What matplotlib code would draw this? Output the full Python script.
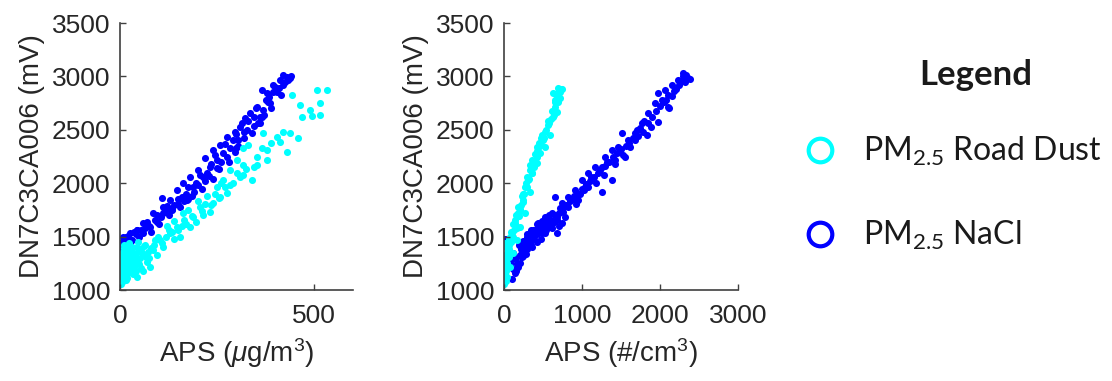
import matplotlib
matplotlib.use('Agg')
import matplotlib.pyplot as plt
from matplotlib.lines import Line2D
from matplotlib.font_manager import FontProperties

# colours (MATLAB 'c' and 'b')
dust_color = (0.0, 1.0, 1.0)
nacl_color = (0.0, 0.0, 1.0)
text_color = '#262626'

# sensor output (mV) vs APS mass concentration (ug/m3)
dust_mass_x = [2, 5, 8, 3, 10, 14, 6, 12, 18, 20, 4, 9, 16, 22, 25, 28, 2, 7, 13, 19,
               26, 32, 35, 30, 38, 42, 11, 24, 45, 15, 33, 40, 48, 52, 55, 60, 44, 34, 58, 65,
               70, 72, 77, 85, 90, 95, 103, 111, 118, 129, 140, 147, 155, 162, 170, 180, 188, 195,
               206, 215, 232, 240, 250, 258, 265, 276, 284, 284, 301, 301, 317, 317, 317, 330,
               340, 353, 353, 369, 379, 379, 404, 412, 421, 430, 438, 443, 459, 464, 469, 490,
               495, 508, 515, 515, 533, 120, 140, 160, 175, 200, 225, 245, 260,
               1, 4, 7, 10, 13, 17, 21, 24, 27, 31, 36, 39, 43, 47, 50, 53, 57, 62, 67, 75,
               80, 88, 98, 108, 125, 135, 150, 165, 185, 210, 220, 235, 255, 270, 290, 310,
               325, 345, 365, 390]
dust_mass_y = [1060, 1100, 1080, 1140, 1120, 1170, 1200, 1230, 1150, 1210, 1260, 1300, 1280, 1250,
               1190, 1300, 1330, 1360, 1340, 1370, 1330, 1270, 1220, 1360, 1300, 1350, 1420, 1410,
               1400, 1090, 1150, 1180, 1240, 1300, 1380, 1330, 1121, 1280, 1180, 1420, 1260, 1360,
               1215, 1374, 1470, 1330, 1467, 1402, 1500, 1533, 1480, 1589, 1495, 1720, 1620, 1589,
               1682, 1640, 1776, 1700, 1729, 1813, 1963, 1869, 2028, 1907, 2121, 1981, 2215, 2093,
               2168, 2075, 2327, 2355, 2028, 2243, 2168, 2467, 2308, 2215, 2430, 2383, 2477, 2290,
               2467, 2822, 2420, 2729, 2617, 2682, 2626, 2869, 2748, 2635, 2869, 1600, 1650, 1600,
               1750, 1830, 1880, 1900, 2000,
               1180, 1240, 1310, 1390, 1270, 1110, 1320, 1440, 1230, 1400, 1330, 1240, 1290, 1450,
               1370, 1210, 1350, 1410, 1310, 1300, 1390, 1420, 1500, 1440, 1560, 1540, 1560, 1660,
               1690, 1740, 1810, 1800, 1860, 1960, 2000, 2060, 2130, 2150, 2330, 2380]

nacl_mass_x = [421, 438, 412, 395, 404, 379, 366, 387, 353, 369, 335, 322, 361, 309, 327, 296,
               276, 304, 258, 284, 240, 219, 250, 232, 201, 180, 214, 162, 188, 147, 108, 129,
               160, 111, 85, 59, 77, 44, 26, 8, 18, 0, 59, 134, 173, 5, 12, 20, 30, 35, 50, 65,
               70, 90, 95, 115, 120, 140, 150, 170, 175, 195, 205, 225, 235, 245, 265, 270, 290,
               300, 315, 330, 345, 350, 375, 385, 400, 410, 425, 430, 440, 433,
               3, 10, 25, 40, 55, 75, 80, 100, 105, 125, 135, 155, 165, 185, 190, 210, 220, 240,
               255, 260, 280, 295, 305, 320, 340, 355, 360, 370, 390, 395, 415, 420,
               15, 45, 68, 95, 110, 130, 150, 175, 200, 230, 250, 275, 300, 320, 345, 365, 380]
nacl_mass_y = [3009, 2981, 2963, 2916, 2850, 2841, 2869, 2748, 2710, 2682, 2654, 2607, 2561, 2523,
               2495, 2477, 2430, 2402, 2355, 2327, 2308, 2234, 2215, 2150, 2121, 2056, 2056, 2000,
               1963, 1935, 1860, 1841, 1869, 1776, 1720, 1626, 1589, 1561, 1533, 1495, 1439, 1402,
               1533, 1748, 1841, 1450, 1480, 1510, 1470, 1540, 1500, 1580, 1640, 1660, 1700, 1740,
               1790, 1800, 1850, 1900, 1960, 2000, 2080, 2100, 2180, 2260, 2280, 2370, 2400, 2460,
               2560, 2580, 2620, 2700, 2780, 2810, 2900, 2890, 2950, 2990, 3000, 2970,
               1380, 1420, 1440, 1520, 1560, 1600, 1540, 1620, 1680, 1700, 1760, 1780, 1830, 1880,
               1920, 1950, 2020, 2040, 2130, 2200, 2200, 2290, 2350, 2420, 2470, 2560, 2620, 2640,
               2700, 2850, 2830, 2920,
               1500, 1560, 1610, 1640, 1720, 1760, 1810, 1850, 1980, 2070, 2140, 2250, 2330, 2480,
               2540, 2620, 2760]

# sensor output (mV) vs APS number concentration (#/cm3)
dust_num_x = [697, 744, 628, 718, 697, 654, 679, 628, 564, 526, 590, 487, 423, 526, 462, 359,
              423, 359, 308, 269, 333, 244, 179, 269, 141, 205, 103, 167, 51, 115, 13, 77, 38,
              0, 5, 15, 25, 10, 30, 20, 45, 5, 35, 60, 50, 20, 70, 90, 60, 110, 130, 90, 120, 160,
              150, 190, 200, 215, 230, 260, 280, 300, 330, 340, 380, 400, 420, 450, 470, 500, 540,
              560, 600, 620, 650, 680, 700, 730,
              8, 18, 28, 40, 12, 55, 65, 80, 100, 140, 170, 180, 210, 240, 250, 290, 320, 360,
              390, 430, 440, 480, 510, 580, 640, 660, 720]
dust_num_y = [2888, 2879, 2841, 2794, 2757, 2710, 2664, 2617, 2542, 2477, 2449, 2449, 2336, 2336,
              2280, 2215, 2187, 2093, 2028, 1963, 1916, 1841, 1776, 1720, 1654, 1589, 1533, 1467,
              1402, 1346, 1280, 1215, 1121, 1150, 1060, 1100, 1080, 1150, 1180, 1220, 1250, 1300,
              1320, 1310, 1380, 1400, 1420, 1450, 1480, 1500, 1560, 1540, 1620, 1600, 1700, 1690,
              1760, 1800, 1880, 1900, 2000, 2060, 2120, 2170, 2200, 2270, 2300, 2380, 2420, 2400,
              2500, 2580, 2600, 2680, 2760, 2820, 2860, 2880,
              1120, 1260, 1200, 1350, 1440, 1420, 1380, 1500, 1470, 1630, 1580, 1720, 1740, 1820,
              1900, 1960, 2040, 2100, 2150, 2250, 2330, 2360, 2420, 2560, 2640, 2780, 2850]

nacl_num_x = [2295, 2359, 2231, 2154, 2064, 1974, 2103, 1936, 2026, 2103, 1974, 1846, 1769, 1833,
              1679, 1513, 1590, 1462, 1551, 1385, 1295, 1423, 1167, 1256, 1385, 1256, 1077, 1000,
              1038, 910, 821, 949, 744, 782, 654, 615, 526, 564, 436, 397, 308, 269, 359, 231,
              179, 141, 679, 487, 744, 100, 150, 200, 250, 300, 330, 380, 420, 450, 500, 550, 600,
              650, 700, 750, 800, 850, 900, 950, 1000, 1050, 1100, 1150, 1200, 1300, 1350, 1400,
              1450, 1500, 1600, 1650, 1700, 1750, 1800, 1900, 1950, 2000, 2050, 2150, 2200, 2250,
              2300, 2340, 2380, 280, 350, 480, 620, 700, 540, 10, 30, 50, 80, 120,
              60, 90, 110, 130, 170, 190, 220, 240, 260, 290, 310, 340, 370, 400, 430, 460, 490,
              520, 560, 580, 640, 680, 720, 760, 820, 880, 920, 980, 1030, 1080, 1120, 1180,
              1230, 1280, 1320, 1420, 1480, 1530, 1560, 1620, 1680, 1720, 1780, 1850, 1880,
              2080, 2120, 2180, 2280, 2320,
              150, 200, 260, 320, 380, 440, 500, 560, 620, 680, 420, 350, 230, 300]
nacl_num_y = [3028, 2981, 2963, 2916, 2869, 2841, 2822, 2748, 2776, 2710, 2570, 2654, 2561, 2449,
              2467, 2467, 2402, 2336, 2243, 2308, 2243, 2215, 2150, 2150, 2028, 1916, 2093, 2028,
              1963, 1935, 1869, 1841, 1813, 1682, 1869, 1720, 1682, 1589, 1626, 1561, 1495, 1402,
              1402, 1308, 1215, 1159, 1533, 1533, 1626, 1100, 1180, 1250, 1320, 1380, 1440, 1480,
              1520, 1580, 1600, 1640, 1660, 1700, 1720, 1760, 1800, 1830, 1880, 1900, 1950, 1990,
              2020, 2060, 2100, 2160, 2200, 2250, 2280, 2320, 2380, 2420, 2500, 2520, 2580, 2620,
              2680, 2720, 2760, 2820, 2880, 2920, 3000, 3010, 2980, 1340, 1420, 1480, 1580, 1600,
              1560, 1480, 1450, 1400, 1280, 1200,
              1330, 1250, 1350, 1300, 1240, 1420, 1380, 1460, 1400, 1500, 1470, 1520, 1560, 1540,
              1620, 1560, 1650, 1530, 1600, 1700, 1640, 1680, 1770, 1730, 1780, 1850, 1810, 1900,
              1940, 1960, 2060, 2000, 2120, 2080, 2200, 2180, 2290, 2260, 2350, 2340, 2400, 2440,
              2480, 2560, 2530, 2780, 2700, 2860, 2960, 2950,
              1300, 1330, 1440, 1430, 1510, 1580, 1560, 1680, 1620, 1660, 1450, 1560, 1350, 1520]

y_ticks = [1000, 1500, 2000, 2500, 3000, 3500]
mass_ticks = [0, 500]
num_ticks = [0, 1000, 2000, 3000]

plt.rcParams['font.family'] = ['Liberation Sans', 'DejaVu Sans']
plt.rcParams['mathtext.fontset'] = 'custom'
plt.rcParams['mathtext.rm'] = 'Liberation Sans'
plt.rcParams['mathtext.it'] = 'Liberation Sans:italic'

fig = plt.figure(figsize=(11.12, 3.81), dpi=100)
ax1 = fig.add_axes([0.1079, 0.2388, 0.2095, 0.7008])
ax2 = fig.add_axes([0.4532, 0.2388, 0.2104, 0.7008])

ms = 26
ax1.scatter(nacl_mass_x, nacl_mass_y, s=ms, color=nacl_color, linewidths=0)
ax1.scatter(dust_mass_x, dust_mass_y, s=ms, color=dust_color, linewidths=0)
ax2.scatter(nacl_num_x, nacl_num_y, s=ms, color=nacl_color, linewidths=0)
ax2.scatter(dust_num_x, dust_num_y, s=ms, color=dust_color, linewidths=0)

for ax, xt, xmax, xlab in [(ax1, mass_ticks, 600, r'APS ($\mu$g/m$^3$)'),
                           (ax2, num_ticks, 3000, r'APS (#/cm$^3$)')]:
    ax.set_xlim(0, xmax)
    ax.set_ylim(1000, 3500)
    ax.set_xticks(xt)
    ax.set_yticks(y_ticks)
    ax.spines['top'].set_visible(False)
    ax.spines['right'].set_visible(False)
    for s in ('left', 'bottom'):
        ax.spines[s].set_color('#404040')
        ax.spines[s].set_linewidth(1.2)
    ax.tick_params(direction='in', length=4, width=1, colors='#404040',
                   labelsize=19, labelcolor=text_color, pad=7)
    ax.tick_params(axis='x', pad=10)
    ax.set_xlabel(xlab, fontsize=20, color=text_color, labelpad=6)
    ax.set_ylabel('DN7C3CA006 (mV)', fontsize=20, color=text_color, labelpad=5)

# legend panel on the right
fig.text(976 / 1112, 1 - 75 / 381, 'Legend', family='Lato', weight='bold', size=25,
         ha='center', va='center', color='#1a1a1a')
handles = [Line2D([], [], ls='', marker='o', ms=17, mfc='none', mec=dust_color, mew=3),
           Line2D([], [], ls='', marker='o', ms=17, mfc='none', mec=nacl_color, mew=3)]
labels = [r'PM$_\mathregular{2.5}$ Road Dust', r'PM$_\mathregular{2.5}$ NaCl']
leg = fig.legend(handles, labels, loc='center left', bbox_to_anchor=(0.723, 0.492),
                 frameon=False, prop=FontProperties(family='Lato', size=23),
                 borderaxespad=0, borderpad=0,
                 labelspacing=1.58, handletextpad=0.85, handlelength=1.0)
for t in leg.get_texts():
    t.set_color('#1a1a1a')

fig.savefig('out.png', dpi=100)
